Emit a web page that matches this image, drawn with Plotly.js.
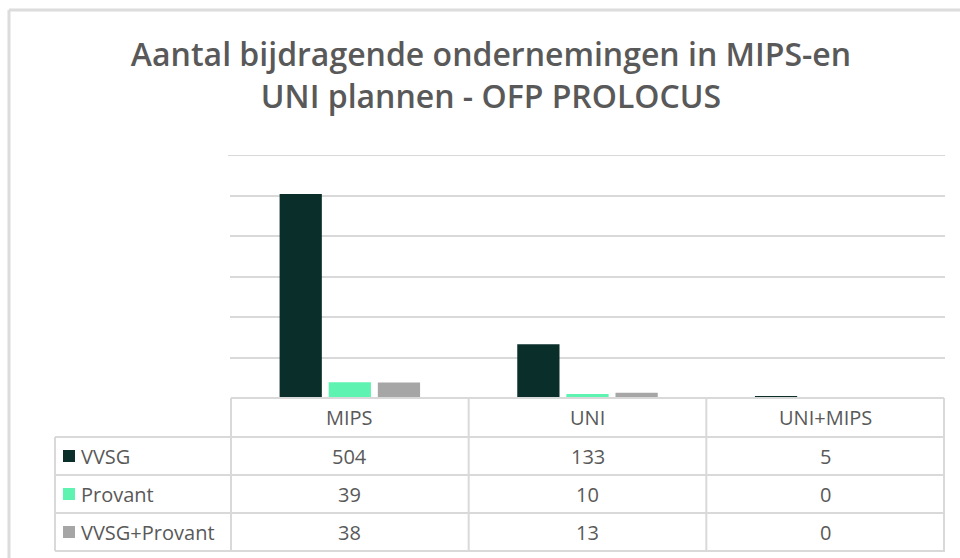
<!DOCTYPE html>
<html>
<head>
<meta charset="utf-8">
<script src="https://cdn.plot.ly/plotly-3.0.1.min.js"></script>
<style>html,body{margin:0;padding:0;background:#fff;}#chart{width:960px;height:558px;}</style>
</head>
<body>
<div id="chart"></div>
<script>
var categories = ["MIPS", "UNI", "UNI+MIPS"];
var seriesNames = ["VVSG", "Provant", "VVSG+Provant"];
var vvsg = [504, 133, 5];
var provant = [39, 10, 0];
var vvsgProvant = [38, 13, 0];
var seriesColors = ["#0a2f2a", "#5ef3b0", "#a6a6a6"];
var yMax = 600;

var W = 960, H = 558;
var mL = 230, mR = 15, mT = 155, mB = 160;
var plotW = W - mL - mR, plotH = H - mT - mB;
function px(x) { return (x - mL) / plotW; }
function py(y) { return (H - mB - y) / plotH; }

var textColor = "#595959";
var lineColor = "#d9d9d9";
var font = "Open Sans, Noto Sans, sans-serif";
var tableSize = 20;

var allSeries = [vvsg, provant, vvsgProvant];
var traces = allSeries.map(function (vals, i) {
  return {
    type: "bar",
    name: seriesNames[i],
    x: categories,
    y: vals,
    marker: { color: seriesColors[i] },
    hoverinfo: "x+y+name"
  };
});

var shapes = [];
var annotations = [];

// outer frame (top and left)
shapes.push({ type: "line", xref: "paper", yref: "paper", x0: px(9), x1: px(W + 5), y0: py(10), y1: py(10), line: { color: "#dcdcdc", width: 3 } });
shapes.push({ type: "line", xref: "paper", yref: "paper", x0: px(9), x1: px(9), y0: py(10), y1: py(H + 5), line: { color: "#dcdcdc", width: 3 } });

// top gridline at axis max
shapes.push({ type: "line", xref: "paper", yref: "y", x0: px(228), x1: 1, y0: yMax, y1: yMax, line: { color: lineColor, width: 2 }, layer: "below" });

// table rows
var rowLines = [398, 437, 475, 513, 551];
var rowCenters = [456, 494, 532];
var headerCenter = 417;
var leftX = 55;

shapes.push({ type: "line", xref: "x", yref: "paper", x0: -0.5, x1: categories.length - 0.5, y0: py(rowLines[0]), y1: py(rowLines[0]), line: { color: lineColor, width: 2 } });
for (var r = 1; r < rowLines.length; r++) {
  shapes.push({ type: "line", xref: "paper", yref: "paper", x0: px(leftX), x1: 1, y0: py(rowLines[r]), y1: py(rowLines[r]), line: { color: lineColor, width: 2 } });
}
shapes.push({ type: "line", xref: "paper", yref: "paper", x0: px(leftX), x1: px(leftX), y0: py(rowLines[1]), y1: py(rowLines[4]), line: { color: lineColor, width: 2 } });
for (var c = 0; c <= categories.length; c++) {
  shapes.push({ type: "line", xref: "x", yref: "paper", x0: c - 0.5, x1: c - 0.5, y0: py(rowLines[0]), y1: py(rowLines[4]), line: { color: lineColor, width: 2 } });
}

categories.forEach(function (cat) {
  annotations.push({ xref: "x", yref: "paper", x: cat, y: py(headerCenter), text: cat, showarrow: false, xanchor: "center", yanchor: "middle", font: { family: font, size: tableSize, color: textColor } });
});

allSeries.forEach(function (vals, i) {
  var yc = py(rowCenters[i]);
  shapes.push({ type: "rect", xref: "paper", yref: "paper", x0: px(63), x1: px(75), y0: py(rowCenters[i] - 6), y1: py(rowCenters[i] + 6), fillcolor: seriesColors[i], line: { width: 0 } });
  annotations.push({ xref: "paper", yref: "paper", x: px(79), y: yc, text: seriesNames[i], showarrow: false, xanchor: "left", yanchor: "middle", font: { family: font, size: tableSize, color: textColor } });
  vals.forEach(function (v, j) {
    annotations.push({ xref: "x", yref: "paper", x: categories[j], y: yc, text: String(v), showarrow: false, xanchor: "center", yanchor: "middle", font: { family: font, size: tableSize, color: textColor } });
  });
});

var layout = {
  width: W, height: H,
  margin: { l: mL, r: mR, t: mT, b: mB, pad: 0 },
  paper_bgcolor: "#ffffff",
  plot_bgcolor: "#ffffff",
  title: {
    text: "Aantal bijdragende ondernemingen in MIPS-en<br>UNI plannen - OFP PROLOCUS",
    x: 491 / W, xref: "container", xanchor: "center",
    y: 1 - 66 / H, yref: "container", yanchor: "top",
    font: { family: font, size: 32, color: textColor, weight: 600 }
  },
  showlegend: false,
  barmode: "group",
  bargap: 0.38,
  bargroupgap: 0.14,
  xaxis: { type: "category", showticklabels: false, showgrid: false, zeroline: false, showline: false, ticks: "", fixedrange: true },
  yaxis: { range: [0, yMax], dtick: 100, showticklabels: false, showgrid: true, gridcolor: lineColor, gridwidth: 2, zeroline: false, showline: false, ticks: "", fixedrange: true },
  shapes: shapes,
  annotations: annotations
};

Plotly.newPlot("chart", traces, layout, { displayModeBar: false, staticPlot: true });
</script>
</body>
</html>
